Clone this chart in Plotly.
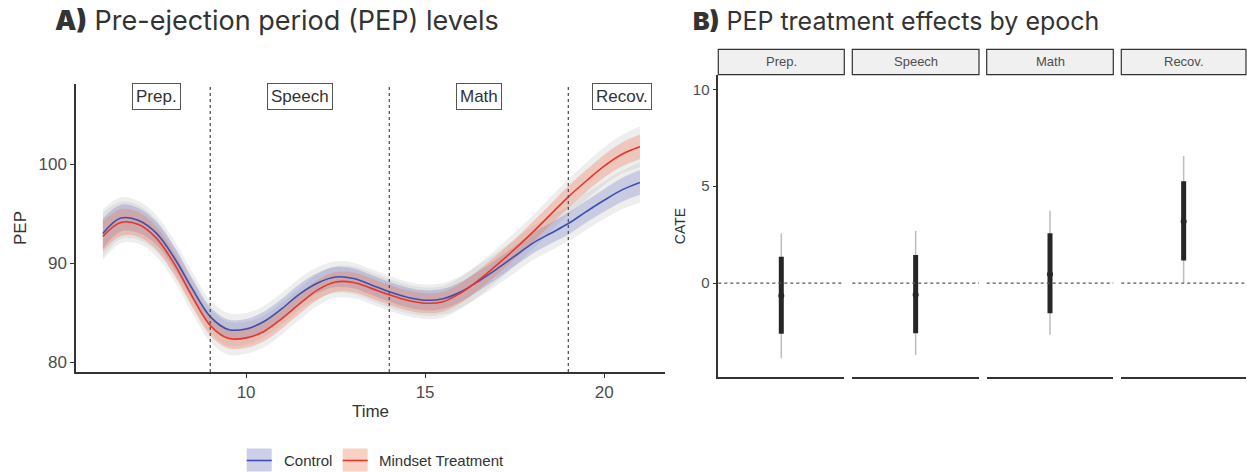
import plotly.graph_objects as go

# ---------------- data ----------------
time = [6.0, 6.5, 7.0, 7.5, 8.0, 8.5, 9.0, 9.5, 10.0, 10.5, 11.0, 11.5, 12.0, 12.5, 13.0,
        13.5, 14.0, 14.5, 15.0, 15.5, 16.0, 16.5, 17.0, 17.5, 18.0, 18.5, 19.0, 19.5,
        20.0, 20.5, 21.0]
control = [93.0, 94.55, 94.3, 93.0, 90.5, 87.4, 84.6, 83.3, 83.35, 84.1, 85.4, 86.9, 88.0,
           88.6, 88.45, 87.8, 87.1, 86.55, 86.25, 86.4, 87.1, 88.2, 89.4, 90.7, 92.0, 93.0,
           94.0, 95.2, 96.35, 97.4, 98.15]
treatment = [92.7, 94.1, 93.9, 92.5, 89.9, 86.6, 83.7, 82.4, 82.45, 83.1, 84.4, 85.9, 87.3,
             88.1, 88.05, 87.45, 86.8, 86.25, 85.95, 86.1, 87.0, 88.3, 89.8, 91.4, 93.1, 94.9,
             96.7, 98.3, 99.8, 101.0, 101.75]
inner_hw = [1.5, 1.35, 1.25, 1.15, 1.1, 1.05, 1.0, 1.0, 1.0, 1.0, 1.0, 1.0, 1.0, 1.0, 1.0,
            1.0, 1.0, 1.0, 1.0, 1.0, 1.0, 1.0, 1.0, 1.0, 1.05, 1.05, 1.1, 1.1, 1.15, 1.2, 1.25]
outer_hw = [2.4, 2.1, 1.95, 1.85, 1.75, 1.7, 1.65, 1.65, 1.6, 1.6, 1.6, 1.6, 1.6, 1.6,
            1.6, 1.6, 1.6, 1.6, 1.6, 1.6, 1.6, 1.65, 1.65, 1.7, 1.7, 1.75, 1.8, 1.85,
            1.9, 1.95, 2.05]
epoch_bounds = [9, 14, 19]
epoch_label_x = [7.5, 11.5, 16.5, 20.5]
epochs = ["Prep.", "Speech", "Math", "Recov."]
series_names = ["Control", "Mindset Treatment"]

cate_est = [-0.65, -0.6, 0.46, 3.18]
cate_lo66 = [-2.6, -2.58, -1.55, 1.17]
cate_hi66 = [1.37, 1.46, 2.58, 5.26]
cate_lo95 = [-3.87, -3.7, -2.66, 0.03]
cate_hi95 = [2.58, 2.7, 3.73, 6.56]

# ---------------- styling / geometry ----------------
W, H = 1247, 472
FONT = "Liberation Sans"
TFONT = "Inter"
BLUE = "#3d4fae"
RED = "#e8352b"
BLUE_FILL = "rgba(80,90,185,0.24)"
RED_FILL = "rgba(240,115,80,0.32)"
GRAY_FILL = "rgba(170,170,170,0.2)"
BLUE_KEY = "#cdcfe9"
RED_KEY = "#f9d1c3"

fig = go.Figure()


def band(y, hw, color, name):
    up = [a + b for a, b in zip(y, hw)]
    lo = [a - b for a, b in zip(y, hw)]
    fig.add_trace(go.Scatter(x=time, y=up, mode="lines", line=dict(width=0, shape="spline"),
                             showlegend=False, hoverinfo="skip", xaxis="x", yaxis="y"))
    fig.add_trace(go.Scatter(x=time, y=lo, mode="lines", line=dict(width=0, shape="spline"),
                             fill="tonexty", fillcolor=color, showlegend=False,
                             hoverinfo="skip", xaxis="x", yaxis="y", name=name))


for y in (control, treatment):
    band(y, outer_hw, GRAY_FILL, "95% band")
band(control, inner_hw, BLUE_FILL, "Control band")
band(treatment, inner_hw, RED_FILL, "Treatment band")

fig.add_trace(go.Scatter(x=time, y=control, mode="lines",
                         line=dict(color=BLUE, width=1.6, shape="spline"),
                         name=series_names[0], showlegend=False, xaxis="x", yaxis="y"))
fig.add_trace(go.Scatter(x=time, y=treatment, mode="lines",
                         line=dict(color=RED, width=1.6, shape="spline"),
                         name=series_names[1], showlegend=False, xaxis="x", yaxis="y"))

# ---------------- right panel: facets ----------------
facet_px = [(718.3, 844.3), (852.3, 979.0), (986.7, 1113.3), (1121.3, 1246.0)]
ybot, ytop = 377.3, 74.7
strip_top = 49.3

for i, ep in enumerate(epochs):
    xa = "x%d" % (i + 2)
    fig.add_trace(go.Scatter(x=[ep, ep], y=[cate_lo95[i], cate_hi95[i]], mode="lines",
                             line=dict(color="#bdbdbd", width=1.5), showlegend=False,
                             xaxis=xa, yaxis="y2"))
    fig.add_trace(go.Scatter(x=[ep, ep], y=[cate_lo66[i], cate_hi66[i]], mode="lines",
                             line=dict(color="#262626", width=5), showlegend=False,
                             xaxis=xa, yaxis="y2"))
    fig.add_trace(go.Scatter(x=[ep], y=[cate_est[i]], mode="markers",
                             marker=dict(color="#262626", size=6), showlegend=False,
                             xaxis=xa, yaxis="y2"))

axis_common = dict(showgrid=False, zeroline=False, showline=True, linecolor="#333333",
                   linewidth=1.5, ticks="outside", ticklen=4, tickwidth=1.2,
                   tickcolor="#333333")

layout = dict(
    width=W, height=H, margin=dict(l=0, r=0, t=0, b=0),
    paper_bgcolor="white", plot_bgcolor="white",
    font=dict(family=FONT, color="#333333"),
    showlegend=False,
    xaxis=dict(domain=[76 / W, 665 / W], range=[5.25, 21.7], tickvals=[10, 15, 20],
               tickfont=dict(family=FONT, size=17, color="#4d4d4d"),
               title=dict(text="Time", font=dict(size=17, color="#333333"), standoff=4),
               anchor="y", **axis_common),
    yaxis=dict(domain=[1 - 372 / H, 1 - 84 / H], range=[79, 108.1], tickvals=[80, 90, 100],
               tickfont=dict(family=FONT, size=17, color="#4d4d4d"),
               title=dict(text="PEP", font=dict(size=17, color="#333333"), standoff=8),
               anchor="x", **axis_common),
    yaxis2=dict(domain=[1 - ybot / H, 1 - ytop / H], range=[-4.85, 10.75], tickvals=[0, 5, 10],
                tickfont=dict(family=FONT, size=15, color="#4d4d4d"),
                title=dict(text="CATE", font=dict(size=14, color="#333333"), standoff=4),
                anchor="x2", **axis_common),
)
for i in range(4):
    x0, x1 = facet_px[i]
    layout["xaxis%d" % (i + 2)] = dict(domain=[x0 / W, x1 / W], type="category",
                                       range=[-0.5, 0.5], anchor="y2", showgrid=False,
                                       zeroline=False, showline=True, linecolor="#333333",
                                       linewidth=1.5, showticklabels=False, ticks="")
fig.update_layout(**layout)

shapes = []
for b in epoch_bounds:
    shapes.append(dict(type="line", xref="x", yref="y domain", x0=b, x1=b, y0=0, y1=1,
                       line=dict(color="#555555", width=1.3, dash="dot")))
for i in range(4):
    x0, x1 = facet_px[i]
    shapes.append(dict(type="line", xref="x%d domain" % (i + 2), yref="y2", x0=0, x1=1,
                       y0=0, y1=0, line=dict(color="#555555", width=1.2, dash="dot")))
    shapes.append(dict(type="rect", xref="paper", yref="paper", x0=x0 / W, x1=x1 / W,
                       y0=1 - ytop / H, y1=1 - strip_top / H, fillcolor="#f0f0f0",
                       line=dict(color="#333333", width=1.2), layer="below"))

# manual legend keys (box + line), matching ggplot's key style
legend_keys = [(246.7, 271.7, BLUE_KEY, BLUE), (342.7, 367.7, RED_KEY, RED)]
ky0, ky1 = 448.5, 471.5
for kx0, kx1, fc, lc in legend_keys:
    shapes.append(dict(type="rect", xref="paper", yref="paper", x0=kx0 / W, x1=kx1 / W,
                       y0=1 - ky1 / H, y1=1 - ky0 / H, fillcolor=fc, line=dict(width=0)))
    shapes.append(dict(type="line", xref="paper", yref="paper", x0=kx0 / W, x1=kx1 / W,
                       y0=1 - 460.5 / H, y1=1 - 460.5 / H, line=dict(color=lc, width=1.6)))
fig.update_layout(shapes=shapes)

ann = []
for lx, ep in zip(epoch_label_x, epochs):
    ann.append(dict(x=lx, y=106.8, xref="x", yref="y", text=ep, showarrow=False,
                    font=dict(family=FONT, size=17, color="#333333"), bgcolor="white",
                    bordercolor="#555555", borderwidth=1, borderpad=3))
for i, ep in enumerate(epochs):
    x0, x1 = facet_px[i]
    ann.append(dict(x=(x0 + x1) / 2 / W, y=1 - (strip_top + ytop) / 2 / H, xref="paper",
                    yref="paper", xanchor="center", yanchor="middle", text=ep,
                    showarrow=False, font=dict(family=FONT, size=13, color="#4d4d4d")))
for tx, name in zip([281.5, 377.5], series_names):
    ann.append(dict(x=tx / W, y=1 - 460.5 / H, xref="paper", yref="paper", xanchor="left",
                    yanchor="middle", text=name, showarrow=False,
                    font=dict(family=FONT, size=15, color="#333333")))
ann.append(dict(x=53 / W, y=1 - 21 / H, xref="paper", yref="paper", xanchor="left",
                yanchor="middle", showarrow=False,
                text='<span style="font-weight:900">A)</span> Pre-ejection period (PEP) levels',
                font=dict(family=TFONT, size=27, color="#333333")))
ann.append(dict(x=691 / W, y=1 - 21 / H, xref="paper", yref="paper", xanchor="left",
                yanchor="middle", showarrow=False,
                text='<span style="font-weight:900">B)</span> PEP treatment effects by epoch',
                font=dict(family=TFONT, size=25, color="#333333")))
fig.update_layout(annotations=ann)

fig.write_html("out.html")
